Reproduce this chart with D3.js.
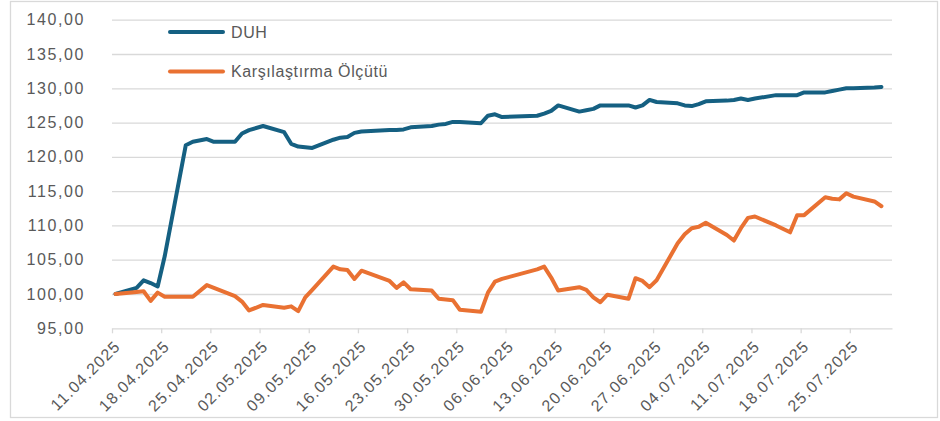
<!DOCTYPE html>
<html lang="tr">
<head>
<meta charset="UTF-8">
<title>DUH - Karşılaştırma Ölçütü</title>
<style>
    body { margin: 0; background: #fff; }
    svg text { font-family: "Liberation Sans", Arial, sans-serif; fill: #595959; }
    .grid line { stroke: #d9d9d9; stroke-width: 1.3; }
    .grid path { display: none; }
    .xaxis path, .xaxis line { stroke: #d9d9d9; stroke-width: 1.3; }
    .series { fill: none; stroke-width: 4; stroke-linejoin: round; stroke-linecap: round; }
</style>
</head>
<body>
<svg id="chart"></svg>
<script src="https://cdn.jsdelivr.net/npm/d3@7"></script>
<script>
// trading days
var dates = [
    "11.04.2025", "14.04.2025", "15.04.2025", "16.04.2025", "17.04.2025", "18.04.2025",
    "21.04.2025", "22.04.2025", "24.04.2025", "25.04.2025", "28.04.2025", "29.04.2025",
    "30.04.2025", "02.05.2025", "05.05.2025", "06.05.2025", "07.05.2025", "08.05.2025",
    "09.05.2025", "12.05.2025", "13.05.2025", "14.05.2025", "15.05.2025", "16.05.2025",
    "20.05.2025", "21.05.2025", "22.05.2025", "23.05.2025", "26.05.2025", "27.05.2025",
    "28.05.2025", "29.05.2025", "30.05.2025", "02.06.2025", "03.06.2025", "04.06.2025",
    "05.06.2025", "10.06.2025", "11.06.2025", "12.06.2025", "13.06.2025", "16.06.2025",
    "17.06.2025", "18.06.2025", "19.06.2025", "20.06.2025", "23.06.2025", "24.06.2025",
    "25.06.2025", "26.06.2025", "27.06.2025", "30.06.2025", "01.07.2025", "02.07.2025",
    "03.07.2025", "04.07.2025", "07.07.2025", "08.07.2025", "09.07.2025", "10.07.2025",
    "11.07.2025", "14.07.2025", "16.07.2025", "17.07.2025", "18.07.2025", "21.07.2025",
    "22.07.2025", "23.07.2025", "24.07.2025", "25.07.2025", "28.07.2025", "29.07.2025"
];

var duh = [
    100.0, 100.9, 102.0, 101.6, 101.1, 105.5,
    121.7, 122.2, 122.6, 122.2, 122.2, 123.4,
    123.9, 124.5, 123.6, 121.9, 121.5, 121.4,
    121.3, 122.5, 122.8, 122.9, 123.5, 123.7,
    123.9, 123.9, 124.0, 124.3, 124.5, 124.7,
    124.8, 125.1, 125.1, 124.9, 126.0, 126.2,
    125.8, 126.0, 126.3, 126.7, 127.5, 126.6,
    126.8, 127.0, 127.5, 127.5, 127.5, 127.2,
    127.5, 128.3, 128.0, 127.8, 127.5, 127.4,
    127.7, 128.1, 128.2, 128.3, 128.5, 128.3,
    128.5, 129.0, 129.0, 129.0, 129.4, 129.4,
    129.6, 129.8, 130.0, 130.0, 130.1, 130.2
];

var olcut = [
    100.0, 100.3, 100.4, 99.0, 100.2, 99.6,
    99.6, 99.6, 101.3, 100.9, 99.7, 98.9,
    97.6, 98.4, 98.0, 98.2, 97.5, 99.5,
    100.6, 104.0, 103.6, 103.5, 102.2, 103.4,
    101.9, 100.9, 101.7, 100.7, 100.5, 99.3,
    99.2, 99.1, 97.7, 97.4, 100.2, 101.8,
    102.2, 103.6, 104.0, 102.4, 100.5, 101.0,
    100.6, 99.5, 98.8, 99.9, 99.3, 102.3,
    101.9, 101.0, 102.0, 107.4, 108.7, 109.6,
    109.8, 110.4, 108.6, 107.8, 109.6, 111.1,
    111.3, 110.0, 109.0, 111.5, 111.5, 114.1,
    113.9, 113.8, 114.7, 114.2, 113.5, 112.8
];

var seriesNames = ["DUH", "Karşılaştırma Ölçütü"];
var seriesColors = ["#156082", "#e97132"];

var xTicks = [
    "11.04.2025", "18.04.2025", "25.04.2025", "02.05.2025", "09.05.2025", "16.05.2025",
    "23.05.2025", "30.05.2025", "06.06.2025", "13.06.2025", "20.06.2025", "27.06.2025",
    "04.07.2025", "11.07.2025", "18.07.2025", "25.07.2025"
];
var yTicks = [95, 100, 105, 110, 115, 120, 125, 130, 135, 140];

var W = 940, H = 421;
var plotLeft = 112, plotRight = 892, plotTop = 19.7, plotBottom = 328.3;

var parse = d3.timeParse("%d.%m.%Y");
var fmtDate = d3.timeFormat("%d.%m.%Y");
var fmtNum = function (d) { return d3.format(".2f")(d).replace(".", ","); };

var svg = d3.select("#chart").attr("width", W).attr("height", H);

// chart border
svg.append("rect")
    .attr("x", 10.5).attr("y", 1.5)
    .attr("width", 927).attr("height", 416)
    .attr("fill", "#fff").attr("stroke", "#d9d9d9").attr("stroke-width", 1.3);

var x = d3.scaleTime()
    .domain([parse("11.04.2025"), parse("31.07.2025")])
    .range([plotLeft, plotRight]);

var y = d3.scaleLinear().domain([95, 140]).range([plotBottom, plotTop]);

// points sit in the middle of their day
var xDay = function (s) { return x(d3.timeHour.offset(parse(s), 12)); };

svg.append("g")
    .attr("class", "grid")
    .attr("transform", "translate(" + plotLeft + ",0)")
    .call(d3.axisLeft(y).tickValues(yTicks.slice(1)).tickSize(-(plotRight - plotLeft)).tickFormat(""));

var yAxis = svg.append("g")
    .attr("transform", "translate(" + plotLeft + ",0)")
    .call(d3.axisLeft(y).tickValues(yTicks).tickSize(0).tickPadding(27).tickFormat(fmtNum));
yAxis.select(".domain").remove();
yAxis.selectAll("text")
    .style("font-size", "16px")
    .style("letter-spacing", "1.6px");

var xAxis = svg.append("g")
    .attr("class", "xaxis")
    .attr("transform", "translate(0," + plotBottom + ")")
    .call(d3.axisBottom(x).tickValues(xTicks.map(parse)).tickSize(5).tickSizeOuter(0).tickFormat(fmtDate));
xAxis.selectAll("text")
    .style("font-size", "16px")
    .style("letter-spacing", "1.2px")
    .attr("text-anchor", "end")
    .attr("y", 0).attr("dy", "0.35em")
    .attr("transform", "translate(5,15) rotate(-45)");

var line = d3.line()
    .x(function (d) { return xDay(d.date); })
    .y(function (d) { return y(d.v); });

[duh, olcut].forEach(function (vals, i) {
    var pts = dates.map(function (d, j) { return { date: d, v: vals[j] }; });
    svg.append("path")
        .datum(pts)
        .attr("class", "series")
        .attr("stroke", seriesColors[i])
        .attr("d", line);
});

// legend
var legend = svg.append("g").attr("transform", "translate(170,32)");
seriesNames.forEach(function (name, i) {
    var g = legend.append("g").attr("transform", "translate(0," + (i * 39.5) + ")");
    g.append("line")
        .attr("x1", 0).attr("x2", 53)
        .attr("stroke", seriesColors[i]).attr("stroke-width", 4)
        .attr("stroke-linecap", "round");
    g.append("text")
        .attr("x", 61).attr("dy", "0.35em")
        .style("font-size", "16px")
        .style("letter-spacing", "0.6px")
        .text(name);
});
</script>
</body>
</html>
